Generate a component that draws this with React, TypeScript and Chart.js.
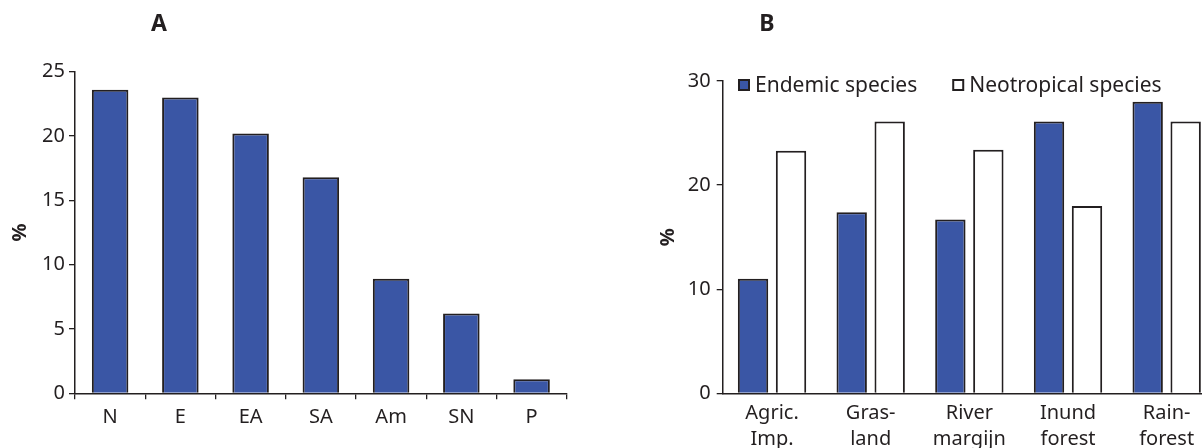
import React, { useEffect, useRef } from 'react';
import { Chart, registerables } from 'chart.js';

Chart.register(...registerables);

// ---- Data ----
const categoriesA = ['N', 'E', 'EA', 'SA', 'Am', 'SN', 'P'];
const valuesA = [23.6, 23.0, 20.2, 16.8, 8.9, 6.2, 1.1];
const yTicksA = { min: 0, max: 25, step: 5 };

const categoriesB = [
  ['Agric.', 'Imp.'],
  ['Gras-', 'land'],
  ['River', 'margijn'],
  ['Inund', 'forest'],
  ['Rain-', 'forest'],
];
const seriesNamesB = ['Endemic species', 'Neotropical species'];
const endemicB = [11.0, 17.4, 16.7, 26.1, 28.0];
const neotropicalB = [23.3, 26.1, 23.4, 18.0, 26.1];
const yTicksB = { min: 0, max: 30, step: 10 };

// ---- Styles ----
const INK = '#231f20';
const BLUE = '#3a56a5';
const WHITE = '#ffffff';
const FONT = "'Noto Sans', sans-serif";

const panelTitlePlugin = {
  id: 'panelTitle',
  afterDraw(chart: any, _args: any, opts: any) {
    if (!opts || !opts.text) return;
    const ctx = chart.ctx;
    ctx.save();
    ctx.font = `bold ${opts.size}px ${FONT}`;
    ctx.fillStyle = INK;
    ctx.textAlign = 'center';
    ctx.textBaseline = 'middle';
    ctx.fillText(opts.text, opts.x, opts.y);
    ctx.restore();
  },
};

const inlineLegendPlugin = {
  id: 'inlineLegend',
  afterDraw(chart: any, _args: any, opts: any) {
    if (!opts || !opts.display) return;
    const ctx = chart.ctx;
    ctx.save();
    ctx.font = `${opts.size}px ${FONT}`;
    ctx.textBaseline = 'middle';
    ctx.textAlign = 'left';
    let x = opts.x;
    const y = opts.y;
    const b = opts.box;
    chart.data.datasets.forEach((ds: any) => {
      ctx.fillStyle = ds.backgroundColor;
      ctx.fillRect(x, y - b / 2, b, b);
      ctx.lineWidth = 2;
      ctx.strokeStyle = INK;
      ctx.strokeRect(x + 1, y - b / 2 + 1, b - 2, b - 2);
      ctx.fillStyle = INK;
      const tx = x + b + opts.textGap;
      ctx.fillText(ds.label, tx, y + 1);
      x = tx + ctx.measureText(ds.label).width + opts.itemGap;
    });
    ctx.restore();
  },
};

function makeConfigA(): any {
  return {
    type: 'bar',
    data: {
      labels: categoriesA,
      datasets: [
        {
          label: 'A',
          data: valuesA,
          backgroundColor: BLUE,
          borderColor: INK,
          borderWidth: 2,
          categoryPercentage: 0.52,
          barPercentage: 1,
        },
      ],
    },
    plugins: [panelTitlePlugin],
    options: {
      responsive: false,
      animation: false,
      devicePixelRatio: 1,
      layout: { padding: { left: 0, top: 71.7, right: 33.3, bottom: 0 } },
      plugins: {
        legend: { display: false },
        tooltip: { enabled: false },
        panelTitle: { text: 'A', x: 159, y: 24, size: 23 },
      },
      scales: {
        x: {
          grid: { offset: true, drawOnChartArea: false, drawTicks: true, tickLength: 6, color: INK, lineWidth: 1.3 },
          border: { display: true, color: INK, width: 1.5 },
          ticks: { color: INK, font: { size: 20, family: FONT }, padding: 6, maxRotation: 0, autoSkip: false },
          afterFit: (s: any) => { s.height = 54.7; },
        },
        y: {
          min: yTicksA.min,
          max: yTicksA.max,
          ticks: { stepSize: yTicksA.step, color: INK, font: { size: 20, family: FONT }, padding: 4 },
          grid: { drawOnChartArea: false, tickLength: 6, color: INK, lineWidth: 1.3 },
          border: { display: true, color: INK, width: 1.5 },
          title: { display: true, text: '%', color: INK, font: { size: 20, weight: 'bold', family: FONT }, padding: { top: 8, bottom: 0 } },
          afterFit: (s: any) => { s.width = 75; },
        },
      },
    },
  };
}

function makeConfigB(): any {
  return {
    type: 'bar',
    data: {
      labels: categoriesB,
      datasets: [
        {
          label: seriesNamesB[0],
          data: endemicB,
          backgroundColor: BLUE,
          borderColor: INK,
          borderWidth: 2,
          categoryPercentage: 0.77,
          barPercentage: 0.8,
        },
        {
          label: seriesNamesB[1],
          data: neotropicalB,
          backgroundColor: WHITE,
          borderColor: INK,
          borderWidth: 2,
          categoryPercentage: 0.77,
          barPercentage: 0.8,
        },
      ],
    },
    plugins: [panelTitlePlugin, inlineLegendPlugin],
    options: {
      responsive: false,
      animation: false,
      devicePixelRatio: 1,
      layout: { padding: { left: 0, top: 81, right: 84, bottom: 0 } },
      plugins: {
        legend: { display: false },
        tooltip: { enabled: false },
        panelTitle: { text: 'B', x: 167, y: 24, size: 23 },
        inlineLegend: { display: true, x: 138, y: 85, box: 12, textGap: 5, itemGap: 35, size: 21 },
      },
      scales: {
        x: {
          grid: { offset: true, drawOnChartArea: false, drawTicks: false, color: INK },
          border: { display: true, color: INK, width: 1.5 },
          ticks: { color: INK, font: { size: 20, family: FONT, lineHeight: 1.3 }, padding: 7, maxRotation: 0, autoSkip: false },
          afterFit: (s: any) => { s.height = 54.7; },
        },
        y: {
          min: yTicksB.min,
          max: yTicksB.max,
          ticks: { stepSize: yTicksB.step, color: INK, font: { size: 20, family: FONT }, padding: 6 },
          grid: { drawOnChartArea: false, tickLength: 6, color: INK, lineWidth: 1.3 },
          border: { display: true, color: INK, width: 1.5 },
          title: { display: true, text: '%', color: INK, font: { size: 20, weight: 'bold', family: FONT }, padding: { top: 56, bottom: 0 } },
          afterFit: (s: any) => { s.width = 122.7; },
        },
      },
    },
  };
}

export default function App() {
  const refA = useRef<HTMLCanvasElement>(null);
  const refB = useRef<HTMLCanvasElement>(null);

  useEffect(() => {
    Chart.defaults.font.family = FONT;
    Chart.defaults.color = INK;
    const a = new Chart(refA.current as HTMLCanvasElement, makeConfigA());
    const b = new Chart(refB.current as HTMLCanvasElement, makeConfigB());
    return () => {
      a.destroy();
      b.destroy();
    };
  }, []);

  return (
    <div
      style={{
        position: 'absolute',
        left: 0,
        top: 0,
        width: 1202,
        height: 448,
        overflow: 'hidden',
        background: '#ffffff',
      }}
    >
      <canvas
        ref={refA}
        width={600}
        height={448}
        style={{ position: 'absolute', left: 0, top: 0, width: 600, height: 448 }}
      />
      <canvas
        ref={refB}
        width={700}
        height={448}
        style={{ position: 'absolute', left: 600, top: 0, width: 700, height: 448 }}
      />
    </div>
  );
}
